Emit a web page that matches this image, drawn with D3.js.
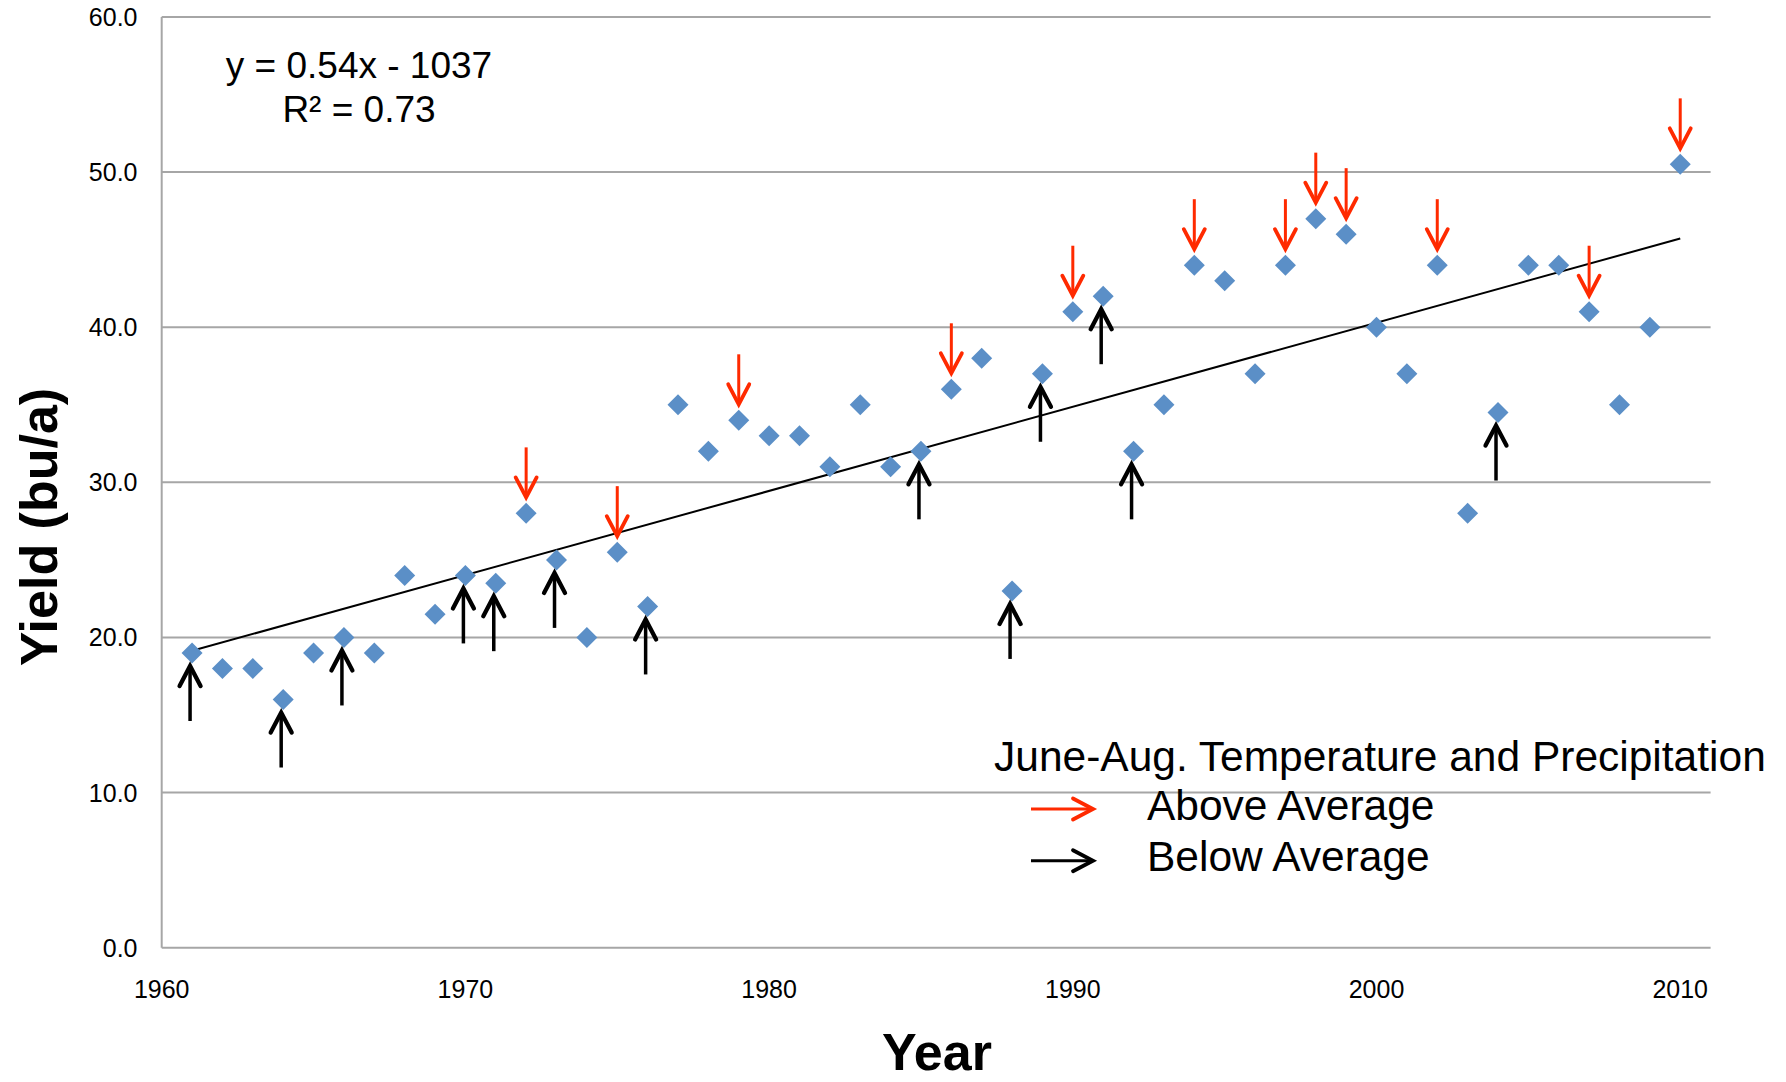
<!DOCTYPE html>
<html>
<head>
<meta charset="utf-8">
<script src="https://cdn.jsdelivr.net/npm/d3@7/dist/d3.min.js"></script>
<style>
  html, body { margin: 0; padding: 0; background: #fff; }
  svg { display: block; font-family: "Liberation Sans", Arial, Helvetica, sans-serif; }
</style>
</head>
<body>
<svg id="chart" width="1786" height="1082"></svg>
<script>
// Annual yield (bu/a), 1961-2010
const years = d3.range(1961, 2011);
const yields = [
  19, 18, 18, 16, 19, 20, 19, 24, 21.5, 24,
  23.5, 28, 25, 20, 25.5, 22, 35, 32, 34, 33,
  33, 31, 35, 31, 32, 36, 38, 23, 37, 41,
  42, 32, 35, 44, 43, 37, 44, 47, 46, 40,
  37, 44, 28, 34.5, 44, 44, 41, 35, 40, 50.5
];

// Seasons with June-Aug. temperature and precipitation above / below average
const aboveYears = [1972, 1975, 1979, 1986, 1990, 1994, 1997, 1998, 1999, 2002, 2007, 2010];
const belowYears = [1961, 1964, 1966, 1970, 1971, 1973, 1976, 1985, 1988, 1989, 1991, 1992, 2004];

const yTicks = [0, 10, 20, 30, 40, 50, 60];
const xTicks = [1960, 1970, 1980, 1990, 2000, 2010];

const equationText = "y = 0.54x - 1037";
const r2Text = "R² = 0.73";
const legendTitle = "June-Aug. Temperature and Precipitation";
const legendLabels = ["Above Average", "Below Average"];

const RED = "#ff2a00";
const BLUE = "#5b8fc7";
const GRID = "#a6a6a6";

const svg = d3.select("#chart");

const x = d3.scaleLinear().domain([1960, 2011]).range([161.7, 1710.6]);
const y = d3.scaleLinear().domain([0, 60]).range([947.7, 17]);

const points = years.map((yr, i) => ({ year: yr, value: yields[i] }));
const valueOf = yr => yields[years.indexOf(yr)];

// Horizontal gridlines
svg.append("g")
  .selectAll("line")
  .data(yTicks)
  .join("line")
  .attr("x1", x(1960)).attr("x2", x(2011))
  .attr("y1", d => y(d)).attr("y2", d => y(d))
  .attr("stroke", GRID).attr("stroke-width", 2);

// Vertical axis line
svg.append("line")
  .attr("x1", x(1960)).attr("x2", x(1960))
  .attr("y1", y(60)).attr("y2", y(0))
  .attr("stroke", GRID).attr("stroke-width", 2);

// Y tick labels
svg.append("g")
  .selectAll("text")
  .data(yTicks)
  .join("text")
  .attr("x", 137.5)
  .attr("y", d => y(d) + 9)
  .attr("text-anchor", "end")
  .attr("font-size", 25)
  .attr("fill", "#000")
  .text(d => d3.format(".1f")(d));

// X tick labels
svg.append("g")
  .selectAll("text")
  .data(xTicks)
  .join("text")
  .attr("x", d => x(d))
  .attr("y", 997.7)
  .attr("text-anchor", "middle")
  .attr("font-size", 25)
  .attr("fill", "#000")
  .text(d => d);

// Axis titles
svg.append("text")
  .attr("transform", "translate(57,527) rotate(-90)")
  .attr("text-anchor", "middle")
  .attr("font-size", 52)
  .attr("font-weight", "bold")
  .text("Yield (bu/a)");

svg.append("text")
  .attr("x", 937)
  .attr("y", 1070)
  .attr("text-anchor", "middle")
  .attr("font-size", 52)
  .attr("font-weight", "bold")
  .text("Year");

// Least-squares linear trend of yield on year
const mx = d3.mean(years), my = d3.mean(yields);
const sxy = d3.sum(points, p => (p.year - mx) * (p.value - my));
const sxx = d3.sum(years, yr => (yr - mx) * (yr - mx));
const slope = sxy / sxx;
const intercept = my - slope * mx;
const trend = [years[0], years[years.length - 1]].map(yr => [yr, intercept + slope * yr]);

svg.append("path")
  .datum(trend)
  .attr("d", d3.line().x(d => x(d[0])).y(d => y(d[1])))
  .attr("fill", "none")
  .attr("stroke", "#000")
  .attr("stroke-width", 2);

// Diamond markers
svg.append("g")
  .selectAll("path")
  .data(points)
  .join("path")
  .attr("transform", d => `translate(${x(d.year)},${y(d.value)})`)
  .attr("d", "M0,-10.5L10.5,0L0,10.5L-10.5,0Z")
  .attr("fill", BLUE);

// Arrow helpers: open chevron head plus shaft
function vArrow(g, cx, tipY, dir, len, color, width) {
  // dir = +1 points down, -1 points up
  const tail = tipY - dir * len;
  g.append("line")
    .attr("x1", cx).attr("x2", cx)
    .attr("y1", tail).attr("y2", tipY - dir * 2)
    .attr("stroke", color).attr("stroke-width", width);
  g.append("path")
    .attr("d", `M${cx - 10.5},${tipY - dir * 20}L${cx},${tipY}L${cx + 10.5},${tipY - dir * 20}`)
    .attr("fill", "none")
    .attr("stroke", color).attr("stroke-width", width + 0.8)
    .attr("stroke-linejoin", "miter").attr("stroke-linecap", "round");
}
function hArrow(g, x0, tipX, cy, color, width) {
  g.append("line")
    .attr("x1", x0).attr("x2", tipX - 2)
    .attr("y1", cy).attr("y2", cy)
    .attr("stroke", color).attr("stroke-width", width);
  g.append("path")
    .attr("d", `M${tipX - 20},${cy - 10.5}L${tipX},${cy}L${tipX - 20},${cy + 10.5}`)
    .attr("fill", "none")
    .attr("stroke", color).attr("stroke-width", width + 0.8)
    .attr("stroke-linejoin", "miter").attr("stroke-linecap", "round");
}

const arrows = svg.append("g");
aboveYears.forEach(yr => {
  vArrow(arrows, x(yr), y(valueOf(yr)) - 16, 1, 50, RED, 3);
});
belowYears.forEach(yr => {
  vArrow(arrows, x(yr) - 2, y(valueOf(yr)) + 13, -1, 55, "#000", 3.5);
});

// Trend equation
const eq = svg.append("g").attr("font-size", 37).attr("text-anchor", "middle");
eq.append("text").attr("x", 359).attr("y", 78).text(equationText);
eq.append("text").attr("x", 359).attr("y", 122).text(r2Text);

// Legend
const legend = svg.append("g").attr("font-size", 42.5);
legend.append("text").attr("x", 994).attr("y", 771).text(legendTitle);
legend.append("text").attr("x", 1147).attr("y", 820).text(legendLabels[0]);
legend.append("text").attr("x", 1147).attr("y", 870.7).text(legendLabels[1]);
hArrow(legend, 1031, 1093, 809, RED, 3);
hArrow(legend, 1031, 1093, 860.7, "#000", 3);
</script>
</body>
</html>
